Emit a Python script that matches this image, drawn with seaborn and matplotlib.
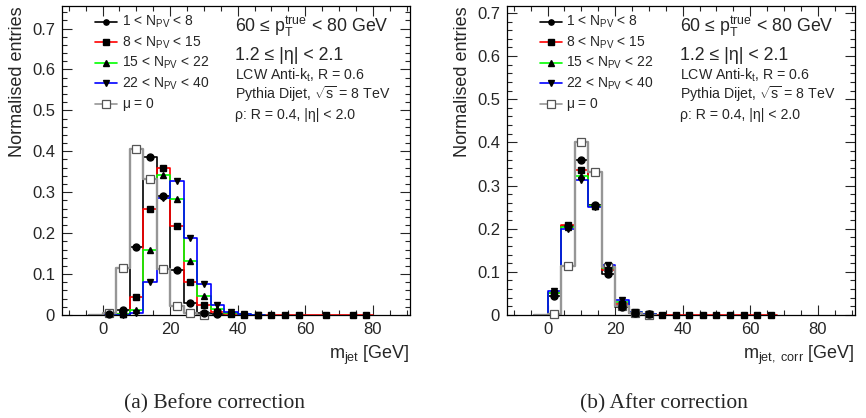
import numpy as np
import matplotlib
matplotlib.use("Agg")
import matplotlib.pyplot as plt
from matplotlib.ticker import MultipleLocator
import seaborn as sns

# bin width 4 GeV, bins start at 0
bin_width = 4

# before correction (normalised entries per bin, starting at 0 GeV)
before_npv1 = [0.002, 0.011, 0.166, 0.385, 0.290, 0.111, 0.029, 0.006, 0.002]
before_npv2 = [0.0, 0.003, 0.044, 0.260, 0.359, 0.218, 0.080, 0.025, 0.007, 0.002, 0.001,
               0.0004, 0.0004, 0.0004, 0.0004, 0.0, 0.0004, 0.0, 0.0004, 0.0004]
before_npv3 = [0.0, 0.002, 0.012, 0.159, 0.341, 0.283, 0.131, 0.047, 0.015, 0.005, 0.002, 0.001]
before_npv4 = [0.0, 0.001, 0.005, 0.080, 0.287, 0.328, 0.187, 0.076, 0.025, 0.008, 0.003, 0.001]
before_mu0 = [0.005, 0.115, 0.405, 0.333, 0.112, 0.022, 0.004, 0.001]

# after correction
after_npv1 = [0.045, 0.206, 0.360, 0.255, 0.095, 0.019, 0.004, 0.002]
after_npv2 = [0.052, 0.208, 0.335, 0.252, 0.105, 0.025, 0.005, 0.002,
              0.0004, 0.0004, 0.0004, 0.0004, 0.0004, 0.0004, 0.0004, 0.0004, 0.0004]
after_npv3 = [0.050, 0.205, 0.323, 0.252, 0.108, 0.030, 0.006, 0.002]
after_npv4 = [0.056, 0.200, 0.312, 0.250, 0.117, 0.035, 0.008, 0.003]
after_mu0 = [0.002, 0.114, 0.402, 0.331, 0.112, 0.022, 0.004, 0.001]

labels = [r"1 < $N_{PV}$ < 8", r"8 < $N_{PV}$ < 15", r"15 < $N_{PV}$ < 22",
          r"22 < $N_{PV}$ < 40", r"$\mu$ = 0"]
line_colors = ["black", "#ff0000", "#00ff00", "#0000ff", "#969696"]
markers = ["o", "s", "^", "v", "s"]

sns.set_style("ticks")
plt.rcParams.update({
    "font.family": ["Liberation Sans", "DejaVu Sans"],
    "mathtext.fontset": "custom",
    "mathtext.rm": "Liberation Sans",
    "mathtext.it": "Liberation Sans:italic",
    "mathtext.default": "regular",
    "axes.linewidth": 0.9,
})

fig = plt.figure(figsize=(8.66, 4.18), dpi=100)
ax1 = fig.add_axes([62 / 866, 1 - 315 / 418, 348 / 866, 309 / 418])
ax2 = fig.add_axes([507 / 866, 1 - 315 / 418, 348 / 866, 309 / 418])

AX_W, AX_H, AX_TOP = 348.0, 309.0, 6.0


def fy(px):
    # pixel row (from figure top) -> axes fraction
    return 1 - (px - AX_TOP) / AX_H


def draw_panel(ax, series, ymax, xlabel):
    for vals, col, mk in zip(series, line_colors, markers):
        vals = np.array([0.0] + list(vals))  # empty bin below 0 for the rising edge
        edges = -bin_width + bin_width * np.arange(len(vals) + 1)
        centers = edges[:-1] + bin_width / 2
        is_ref = col == "#969696"
        sns.histplot(x=centers, weights=vals, bins=list(edges), element="step", fill=False,
                     color=col, linewidth=1.7 if is_ref else 1.2, ax=ax, legend=False)
        keep = vals > 0
        if is_ref:
            ax.plot(centers[keep], vals[keep], ls="none", marker=mk, ms=6,
                    mfc="white", mec="#555555", mew=0.9, zorder=7, clip_on=False)
        else:
            ax.plot(centers[keep], vals[keep], ls="none", marker=mk, ms=5,
                    color="black", zorder=8, clip_on=False)

    for sp in ax.spines.values():
        sp.set_zorder(6)
        sp.set_color("black")
    ax.set_xlim(-12, 91)
    ax.set_ylim(0, ymax)
    ax.xaxis.set_major_locator(MultipleLocator(20))
    ax.xaxis.set_minor_locator(MultipleLocator(5))
    ax.yaxis.set_major_locator(MultipleLocator(0.1))
    ax.yaxis.set_minor_locator(MultipleLocator(0.02))
    ax.yaxis.set_major_formatter(plt.FuncFormatter(lambda v, p: "0" if v == 0 else f"{v:.1f}"))
    ax.tick_params(which="both", direction="in", top=True, right=True, labelsize=12, width=0.8)
    ax.tick_params(which="major", length=7, pad=5)
    ax.tick_params(which="minor", length=3.5)
    ax.set_ylabel("Normalised entries", loc="top", fontsize=13, labelpad=4)
    ax.set_xlabel(xlabel, loc="right", fontsize=13, labelpad=5)

    # legend drawn by hand, ROOT style
    x0, x1 = (95 - 62) / AX_W, (117 - 62) / AX_W
    for i, (lab, col, mk) in enumerate(zip(labels, line_colors, markers)):
        base = 26 + 20.5 * i
        yl = fy(base - 4.5)
        ax.plot([x0, x1], [yl, yl], color=col, lw=1.2, transform=ax.transAxes, clip_on=False)
        if col == "#969696":
            ax.plot([(x0 + x1) / 2], [yl], marker=mk, ms=5.5, mfc="white", mec="#555555",
                    mew=0.9, transform=ax.transAxes, clip_on=False)
        else:
            ax.plot([(x0 + x1) / 2], [yl], marker=mk, ms=3.8, color="black",
                    transform=ax.transAxes, clip_on=False)
        ax.text((121.5 - 62) / AX_W, fy(base), lab, transform=ax.transAxes,
                fontsize=10, va="baseline")

    tx = 0.497
    ax.text(tx, fy(32), r"60 ≤ $p_{T}^{true}$ < 80 GeV", transform=ax.transAxes,
            fontsize=12.8, va="baseline")
    ax.text(tx, fy(59.5), r"1.2 ≤ |η| < 2.1", transform=ax.transAxes, fontsize=12.8, va="baseline")
    ax.text(tx, fy(79.5), r"LCW Anti-$k_{t}$, R = 0.6", transform=ax.transAxes,
            fontsize=10.2, va="baseline")
    ax.text(tx, fy(99.5), r"Pythia Dijet, $\sqrt{s}$ = 8 TeV", transform=ax.transAxes,
            fontsize=10.2, va="baseline")
    ax.text(tx, fy(118.5), r"ρ: R = 0.4, |η| < 2.0", transform=ax.transAxes,
            fontsize=10.2, va="baseline")


draw_panel(ax1, [before_npv1, before_npv2, before_npv3, before_npv4, before_mu0],
           0.755, r"$m_{jet}$ [GeV]")
draw_panel(ax2, [after_npv1, after_npv2, after_npv3, after_npv4, after_mu0],
           0.716, r"$m_{jet,\ corr}$ [GeV]")

fig.text(214 / 866, 1 - 408 / 418, "(a) Before correction", ha="center", va="baseline",
         fontsize=15.5, family="Liberation Serif")
fig.text(664 / 866, 1 - 408 / 418, "(b) After correction", ha="center", va="baseline",
         fontsize=15.5, family="Liberation Serif")

fig.savefig("out.png", dpi=100)
